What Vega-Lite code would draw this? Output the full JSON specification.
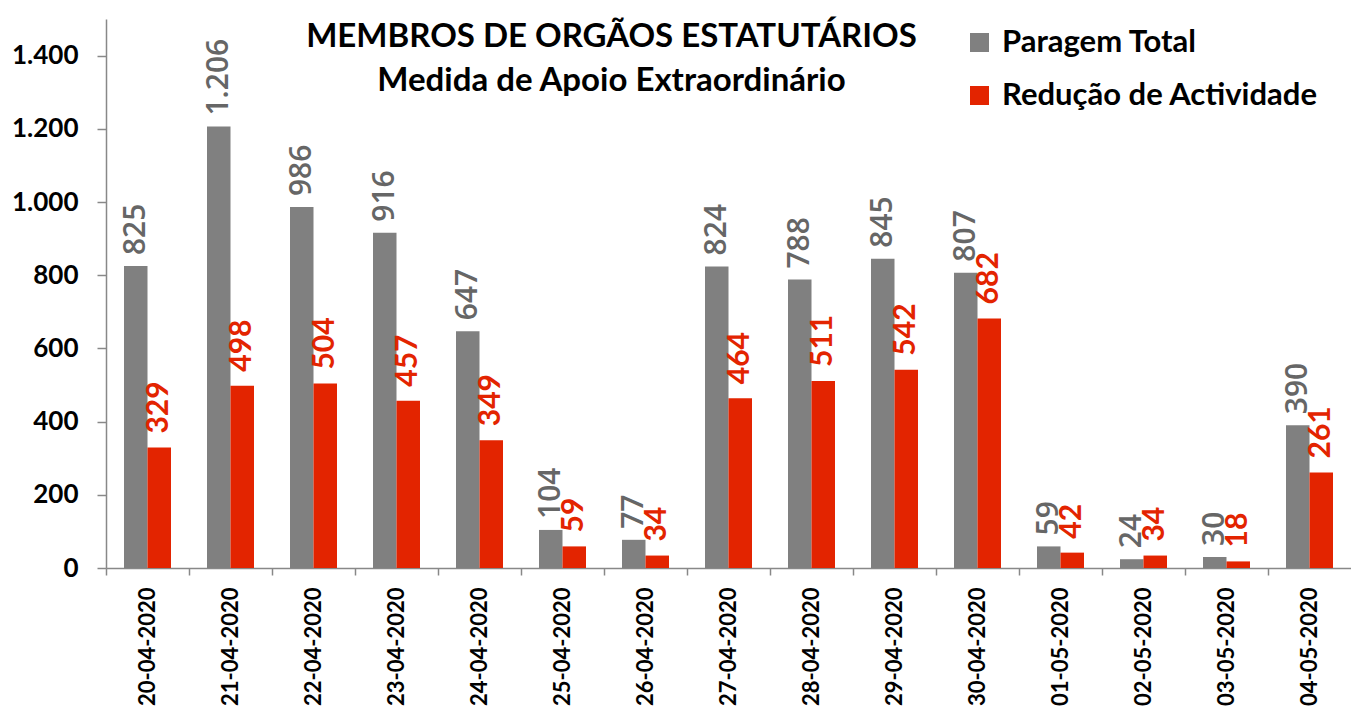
{
  "$schema": "https://vega.github.io/schema/vega-lite/v6.json",
  "width": 1245,
  "height": 549,
  "autosize": "none",
  "padding": {"left": 106, "top": 19, "right": 0, "bottom": 141},
  "background": "white",
  "title": {
    "text": ["MEMBROS DE ORGÃOS ESTATUTÁRIOS", "Medida de Apoio Extraordinário"],
    "orient": "top",
    "anchor": "middle",
    "frame": "group",
    "baseline": "top",
    "dx": -117,
    "dy": 73,
    "offset": -6,
    "font": "Lato",
    "fontSize": 33,
    "fontWeight": "bold",
    "color": "black",
    "lineHeight": 44
  },
  "data": {
    "values": [
      {"date": "20-04-2020", "series": "Paragem Total", "value": 825},
      {"date": "20-04-2020", "series": "Redução de Actividade", "value": 329},
      {"date": "21-04-2020", "series": "Paragem Total", "value": 1206},
      {"date": "21-04-2020", "series": "Redução de Actividade", "value": 498},
      {"date": "22-04-2020", "series": "Paragem Total", "value": 986},
      {"date": "22-04-2020", "series": "Redução de Actividade", "value": 504},
      {"date": "23-04-2020", "series": "Paragem Total", "value": 916},
      {"date": "23-04-2020", "series": "Redução de Actividade", "value": 457},
      {"date": "24-04-2020", "series": "Paragem Total", "value": 647},
      {"date": "24-04-2020", "series": "Redução de Actividade", "value": 349},
      {"date": "25-04-2020", "series": "Paragem Total", "value": 104},
      {"date": "25-04-2020", "series": "Redução de Actividade", "value": 59},
      {"date": "26-04-2020", "series": "Paragem Total", "value": 77},
      {"date": "26-04-2020", "series": "Redução de Actividade", "value": 34},
      {"date": "27-04-2020", "series": "Paragem Total", "value": 824},
      {"date": "27-04-2020", "series": "Redução de Actividade", "value": 464},
      {"date": "28-04-2020", "series": "Paragem Total", "value": 788},
      {"date": "28-04-2020", "series": "Redução de Actividade", "value": 511},
      {"date": "29-04-2020", "series": "Paragem Total", "value": 845},
      {"date": "29-04-2020", "series": "Redução de Actividade", "value": 542},
      {"date": "30-04-2020", "series": "Paragem Total", "value": 807},
      {"date": "30-04-2020", "series": "Redução de Actividade", "value": 682},
      {"date": "01-05-2020", "series": "Paragem Total", "value": 59},
      {"date": "01-05-2020", "series": "Redução de Actividade", "value": 42},
      {"date": "02-05-2020", "series": "Paragem Total", "value": 24},
      {"date": "02-05-2020", "series": "Redução de Actividade", "value": 34},
      {"date": "03-05-2020", "series": "Paragem Total", "value": 30},
      {"date": "03-05-2020", "series": "Redução de Actividade", "value": 18},
      {"date": "04-05-2020", "series": "Paragem Total", "value": 390},
      {"date": "04-05-2020", "series": "Redução de Actividade", "value": 261}
    ]
  },
  "encoding": {
    "x": {
      "field": "date",
      "type": "nominal",
      "sort": null,
      "title": null,
      "scale": {"paddingInner": 0, "paddingOuter": 0},
      "axis": {
        "bandPosition": 0,
        "labelAngle": -90,
        "labelAlign": "right",
        "labelBaseline": "middle",
        "labelFont": "Lato",
        "labelFontSize": 22,
        "labelFontWeight": "bold",
        "labelColor": "black",
        "labelPadding": 12,
        "labelLimit": 400,
        "labelOverlap": false,
        "tickSize": 7,
        "tickColor": "#888888",
        "domainColor": "#888888",
        "domainWidth": 1.5,
        "tickWidth": 1.5,
        "grid": false
      }
    },
    "xOffset": {
      "field": "series",
      "type": "nominal",
      "scale": {"domain": ["Paragem Total", "Redução de Actividade"], "paddingInner": 0, "paddingOuter": 0.766}
    },
    "y": {
      "field": "value",
      "type": "quantitative",
      "title": null,
      "scale": {"domain": [0, 1500], "nice": false},
      "axis": {
        "values": [0, 200, 400, 600, 800, 1000, 1200, 1400],
        "format": ",d",
        "labelFont": "Lato",
        "labelFontSize": 26,
        "labelFontWeight": "bold",
        "labelColor": "black",
        "labelPadding": 19,
        "tickSize": 9,
        "tickColor": "#888888",
        "domainColor": "#888888",
        "domainWidth": 1.5,
        "tickWidth": 1.5,
        "grid": false
      }
    }
  },
  "layer": [
    {
      "mark": {"type": "bar"},
      "encoding": {
        "color": {
          "field": "series",
          "type": "nominal",
          "scale": {"domain": ["Paragem Total", "Redução de Actividade"], "range": ["#808080", "#E32400"]},
          "legend": {
            "title": null,
            "orient": "none",
            "legendX": 858,
            "legendY": 8,
            "symbolType": "square",
            "symbolSize": 361,
            "symbolStrokeWidth": 0,
            "labelFont": "Lato",
            "labelFontSize": 31,
            "labelFontWeight": "bold",
            "labelColor": "black",
            "labelOffset": 7,
            "labelLimit": 500,
            "rowPadding": 21,
            "padding": 0
          }
        }
      }
    },
    {
      "transform": [{"filter": "datum.series === 'Paragem Total'"}],
      "mark": {"type": "text", "angle": 270, "align": "left", "baseline": "middle", "dx": 11, "font": "Open Sans", "fontSize": 30, "fontWeight": 600, "color": "#666666"},
      "encoding": {"text": {"field": "value", "type": "quantitative", "format": ",d"}}
    },
    {
      "transform": [{"filter": "datum.series === 'Redução de Actividade'"}],
      "mark": {"type": "text", "angle": 270, "align": "left", "baseline": "middle", "dx": 14, "font": "Lato", "fontSize": 30, "fontWeight": "bold", "color": "#E32400"},
      "encoding": {"text": {"field": "value", "type": "quantitative", "format": ",d"}}
    }
  ],
  "config": {
    "view": {"stroke": null},
    "locale": {"number": {"decimal": ",", "thousands": ".", "grouping": [3], "currency": ["", " €"]}}
  }
}
